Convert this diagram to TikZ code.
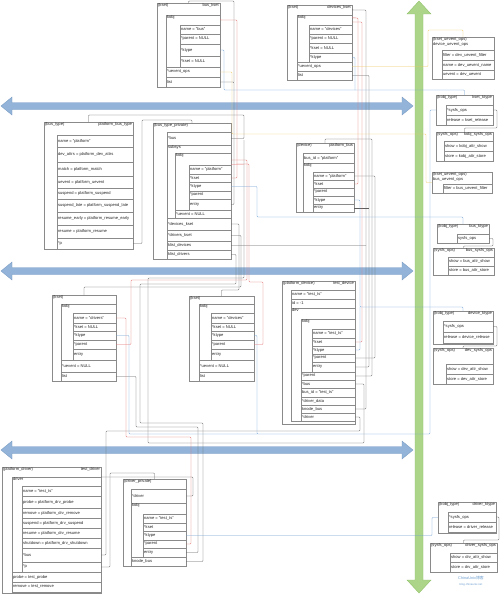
\documentclass[tikz,border=0pt]{standalone}
\usepackage{fontspec}
\setmainfont{Liberation Sans}
\newfontfamily\cjkfont{Noto Sans CJK SC}
\usetikzlibrary{fit}
\definecolor{boxc}{HTML}{8A8A8A}
\definecolor{txtc}{HTML}{262626}
\definecolor{lgray}{HTML}{5E5E5E}
\definecolor{lred}{HTML}{E36B6B}
\definecolor{lblue}{HTML}{6D9ED1}
\definecolor{lyel}{HTML}{EDC860}
\definecolor{barf}{HTML}{93B4D8}
\definecolor{bard}{HTML}{7A9CC4}
\definecolor{garf}{HTML}{ADD58A}
\definecolor{gard}{HTML}{8DBF64}
\definecolor{wmc}{HTML}{6F9FD0}
\newcommand\rowb[6]{\node[bx,fit={(#2,#3)(#4,#5)}] (#1) {};\node[tx,anchor=west] (#1-t) at ([xshift=0.8pt]#1.west) {#6};}
\newcommand\contb[6]{\node[bx,fit={(#2,#3)(#4,#5)}] (#1) {};\node[tx,anchor=north west] (#1-t) at ([xshift=0.8pt,yshift=-0.6pt]#1.north west) {#6};}
\newcommand\headb[7]{\node[bx,fit={(#2,#3)(#4,#5)}] (#1) {};\node[tx,anchor=north west] (#1-t) at ([xshift=0.8pt,yshift=-0.6pt]#1.north west) {#6};\node[tx,anchor=north east] (#1-r) at ([xshift=-0.8pt,yshift=-0.6pt]#1.north east) {#7};}
\newcommand\harr[1]{\filldraw[barrow] (1,#1) -- (12,#1-9) -- (12,#1-3.5) -- (402,#1-3.5) -- (402,#1-9) -- (413,#1) -- (402,#1+9) -- (402,#1+3.5) -- (12,#1+3.5) -- (12,#1+9) -- cycle;}
\begin{document}
\begin{tikzpicture}[x=0.5mm,y=-0.5mm,
  bx/.style={draw=boxc,line width=0.35pt,fill=white,inner sep=0pt,outer sep=0pt,rectangle},
  tx/.style={font=\fontsize{5.8}{6.5}\selectfont,text=txtc,inner sep=0.6pt,align=left},
  con/.style={line width=0.5pt,rounded corners=1.2pt},
  gl/.style={con,draw=lgray},
  rl/.style={con,draw=lred},
  bl/.style={con,draw=lblue},
  yl/.style={con,draw=lyel},
  barrow/.style={fill=barf,draw=bard,line width=0.5pt},
  garrow/.style={fill=garf,draw=gard,line width=0.5pt}]
\fill[white] (0,0) rectangle (500,594);
\useasboundingbox (0,0) rectangle (500,594);
% big arrows
\harr{106}
\harr{271}
\harr{450}
\filldraw[garrow] (419,1) -- (431,14) -- (423,14) -- (423,580) -- (431,580) -- (419,593) -- (407,580) -- (415,580) -- (415,14) -- (407,14) -- cycle;

% ---- bus_kset
\headb{bk}{157}{3}{220}{87}{(kset)}{bus\_kset}
\contb{bk-kobj}{166}{15}{220}{67}{kobj}
\rowb{bk-name}{180}{25}{220}{34}{name = "bus"}
\rowb{bk-parent}{180}{34}{220}{44}{*parent = NULL}
\rowb{bk-ktype}{180}{44}{220}{56}{*ktype}
\rowb{bk-kset}{180}{56}{220}{67}{*kset = NULL}
\rowb{bk-uev}{166}{67}{220}{77}{*uevent\_ops}
\rowb{bk-list}{166}{77}{220}{87}{list}
% ---- devices_kset
\headb{dks}{287}{5}{352}{80}{(kset)}{devices\_kset}
\contb{dks-kobj}{297}{15}{352}{62}{kobj}
\rowb{dks-name}{309}{25}{352}{34}{name = "devices"}
\rowb{dks-parent}{309}{34}{352}{43}{*parent = NULL}
\rowb{dks-kset}{309}{43}{352}{53}{*kset = NULL}
\rowb{dks-ktype}{309}{53}{352}{62}{*ktype}
\rowb{dks-uev}{297}{62}{352}{71}{*uevent\_ops}
\rowb{dks-list}{297}{71}{352}{80}{list}
% ---- right column
\contb{duo}{432}{37}{494}{79}{(kset\_uevent\_ops)\\device\_uevent\_ops}
\rowb{duo-f}{442}{50}{494}{60}{filter = dev\_uevent\_filter}
\rowb{duo-n}{442}{60}{494}{70}{name = dev\_uevent\_name}
\rowb{duo-u}{442}{70}{494}{79}{uevent = dev\_uevent}
\headb{kkt}{436}{95}{493}{125}{(kobj\_type)}{kset\_ktype}
\rowb{kkt-sys}{446}{105}{493}{115}{*sysfs\_ops}
\rowb{kkt-rel}{446}{115}{493}{125}{release = kset\_release}
\headb{kso}{436}{132}{493}{161}{(sysfs\_ops)}{kobj\_sysfs\_ops}
\rowb{kso-show}{444}{141}{493}{151}{show = kobj\_attr\_show}
\rowb{kso-store}{444}{151}{493}{161}{store = kobj\_attr\_store}
\contb{buo}{432}{172}{492}{193}{(kset\_uevent\_ops)\\bus\_uevent\_ops}
\rowb{buo-f}{443}{184}{492}{193}{filter = bus\_uevent\_filter}
\headb{bkt}{437}{224}{489}{243}{(kobj\_type)}{bus\_ktype}
\rowb{bkt-sys}{457}{234}{489}{243}{sysfs\_ops}
\headb{bso}{433}{248}{494}{275}{(sysfs\_ops)}{bus\_sysfs\_ops}
\rowb{bso-show}{448}{257}{494}{266}{show = bus\_attr\_show}
\rowb{bso-store}{448}{266}{494}{275}{store = bus\_attr\_store}
\headb{dkt}{433}{311}{493}{344}{(kobj\_type)}{device\_ktype}
\rowb{dkt-sys}{443}{321}{493}{332}{*sysfs\_ops}
\rowb{dkt-rel}{443}{332}{493}{343}{release = device\_release}
\headb{dso}{433}{348}{493}{384}{(sysfs\_ops)}{dev\_sysfs\_ops}
\rowb{dso-show}{446}{364}{493}{374}{show = dev\_attr\_show}
\rowb{dso-store}{446}{374}{493}{384}{store = dev\_attr\_store}
\headb{drkt}{438}{502}{496}{533}{(kobj\_type)}{driver\_ktype}
\rowb{drkt-sys}{448}{512}{496}{522}{*sysfs\_ops}
\rowb{drkt-rel}{448}{522}{496}{532}{release = driver\_release}
\headb{drso}{430}{543}{497}{572}{(sysfs\_ops)}{driver\_sysfs\_ops}
\rowb{drso-show}{450}{553}{497}{562}{show = drv\_attr\_show}
\rowb{drso-store}{450}{562}{497}{572}{store = drv\_attr\_store}
% ---- bus_type
\headb{bt}{44}{122}{133}{249}{(bus\_type)}{platform\_bus\_type}
\rowb{bt-name}{57}{135}{133}{147}{name = "platform"}
\rowb{bt-da}{57}{147}{133}{162}{dev\_attrs = platform\_dev\_attrs}
\rowb{bt-match}{57}{162}{133}{176}{match = platform\_match}
\rowb{bt-uev}{57}{176}{133}{188}{uevent = platform\_uevent}
\rowb{bt-susp}{57}{188}{133}{199}{suspend = platform\_suspend}
\rowb{bt-sl}{57}{199}{133}{212}{suspend\_late = platform\_suspend\_late}
\rowb{bt-re}{57}{212}{133}{225}{resume\_early = platform\_resume\_early}
\rowb{bt-res}{57}{225}{133}{238}{resume = platform\_resume}
\rowb{bt-p}{57}{238}{133}{249}{*p}
% ---- bus_type_private
\contb{bp}{153}{123}{231}{259}{(bus\_type\_private)}
\rowb{bp-bus}{167}{132}{231}{145}{*bus}
\contb{bp-subsys}{167}{145}{231}{218}{subsys}
\contb{bp-kobj}{175}{153}{231}{210}{kobj}
\rowb{bp-name}{189}{165}{231}{174}{name = "platform"}
\rowb{bp-kset}{189}{174}{231}{182}{*kset}
\rowb{bp-ktype}{189}{182}{231}{191}{*ktype}
\rowb{bp-parent}{189}{191}{231}{199}{*parent}
\rowb{bp-entry}{189}{199}{231}{210}{entry}
\rowb{bp-uev}{175}{210}{231}{218}{*uevent = NULL}
\rowb{bp-devk}{167}{218}{231}{230}{*devices\_kset}
\rowb{bp-drvk}{167}{230}{231}{241}{*drivers\_kset}
\rowb{bp-kld}{167}{241}{231}{250}{klist\_devices}
\rowb{bp-klr}{167}{250}{231}{259}{klist\_drivers}
% ---- platform_bus
\headb{pb}{296}{143}{354}{212}{(device)}{platform\_bus}
\rowb{pb-busid}{303}{153}{354}{163}{bus\_id = "platform"}
\contb{pb-kobj}{303}{163}{354}{212}{kobj}
\rowb{pb-name}{313}{172}{354}{180}{name = "platform"}
\rowb{pb-kset}{313}{180}{354}{188}{*kset}
\rowb{pb-parent}{313}{188}{354}{196}{*parent}
\rowb{pb-ktype}{313}{196}{354}{204}{*ktype}
\rowb{pb-entry}{313}{204}{354}{212}{entry}
% ---- kset drivers
\contb{kd}{52}{295}{116}{381}{(kset)}
\contb{kd-kobj}{61}{304}{116}{360}{kobj}
\rowb{kd-name}{73}{313}{116}{323}{name = "drivers"}
\rowb{kd-kset}{73}{323}{116}{331}{*kset = NULL}
\rowb{kd-ktype}{73}{331}{116}{340}{*ktype}
\rowb{kd-parent}{73}{340}{116}{349}{*parent}
\rowb{kd-entry}{73}{349}{116}{360}{entry}
\rowb{kd-uev}{61}{360}{116}{372}{*uevent = NULL}
\rowb{kd-list}{61}{372}{116}{381}{list}
% ---- kset devices
\contb{kv}{189}{296}{254}{381}{(kset)}
\contb{kv-kobj}{199}{304}{254}{360}{kobj}
\rowb{kv-name}{211}{313}{254}{323}{name = "devices"}
\rowb{kv-kset}{211}{323}{254}{331}{*kset = NULL}
\rowb{kv-ktype}{211}{331}{254}{340}{*ktype}
\rowb{kv-parent}{211}{340}{254}{349}{*parent}
\rowb{kv-entry}{211}{349}{254}{360}{entry}
\rowb{kv-uev}{199}{360}{254}{372}{*uevent = NULL}
\rowb{kv-list}{199}{372}{254}{381}{list}
% ---- test_device
\headb{td}{282}{281}{355}{424}{(platform\_device)}{test\_device}
\rowb{td-name}{291}{290}{355}{299}{name = "test\_ts"}
\rowb{td-id}{291}{299}{355}{308}{id = -1}
\contb{td-dev}{291}{308}{355}{421}{dev}
\contb{td-kobj}{301}{319}{355}{372}{kobj}
\rowb{td-kname}{312}{329}{355}{338}{name = "test\_ts"}
\rowb{td-kkset}{312}{338}{355}{346}{*kset}
\rowb{td-kktype}{312}{346}{355}{354}{*ktype}
\rowb{td-kparent}{312}{354}{355}{362}{*parent}
\rowb{td-kentry}{312}{362}{355}{372}{entry}
\rowb{td-parent}{301}{372}{355}{380}{*parent}
\rowb{td-bus}{301}{380}{355}{388}{*bus}
\rowb{td-busid}{301}{388}{355}{397}{bus\_id = "test\_ts"}
\rowb{td-dd}{301}{397}{355}{405}{*driver\_data}
\rowb{td-knode}{301}{405}{355}{413}{knode\_bus}
\rowb{td-driver}{301}{413}{355}{421}{*driver}
% ---- test_driver
\headb{tr}{2}{467}{101}{593}{(platform\_driver)}{test\_driver}
\contb{tr-drv}{12}{477}{101}{572}{driver}
\rowb{tr-name}{22}{486}{101}{496}{name = "test\_ts"}
\rowb{tr-probe}{22}{496}{101}{508}{probe = platform\_drv\_probe}
\rowb{tr-remove}{22}{508}{101}{518}{remove = platform\_drv\_remove}
\rowb{tr-susp}{22}{518}{101}{528}{suspend = platform\_drv\_suspend}
\rowb{tr-res}{22}{528}{101}{538}{resume = platform\_drv\_resume}
\rowb{tr-shut}{22}{538}{101}{548}{shutdown = platform\_drv\_shutdown}
\rowb{tr-bus}{22}{548}{101}{562}{*bus}
\rowb{tr-p}{22}{562}{101}{572}{*p}
\rowb{tr-probe2}{12}{572}{101}{582}{probe = test\_probe}
\rowb{tr-remove2}{12}{582}{101}{592}{remove = test\_remove}
% ---- driver_private
\contb{dp}{123}{479}{186}{566}{(driver\_private)}
\rowb{dp-driver}{131}{489}{186}{503}{*driver}
\contb{dp-kobj}{131}{503}{186}{557}{kobj}
\rowb{dp-name}{143}{514}{186}{523}{name = "test\_ts"}
\rowb{dp-kset}{143}{523}{186}{531}{*kset}
\rowb{dp-ktype}{143}{531}{186}{540}{*ktype}
\rowb{dp-parent}{143}{540}{186}{548}{*parent}
\rowb{dp-entry}{143}{548}{186}{557}{entry}
\rowb{dp-knode}{131}{557}{186}{566}{knode\_bus}
% ---- watermark
\node[font=\fontsize{5.5}{6}\selectfont,text=wmc,inner sep=0pt] (wm1) at (471,578) {ChinaUnix{\cjkfont 博客}};
\node[font=\fontsize{4}{5}\selectfont,text=wmc,inner sep=0pt] (wm2) at (471,585) {blog.chinaunix.net};

% ================= connectors
% gray
\draw[gl] (bk.north) |- (234,1) -- (234,82);
\draw[gl] (bk-list.east) -- (234,82) |- (bp-entry.east);
\draw[gl] (bt-p.east) -| (142,120) -| (bp.north);
\draw[gl] (bp-bus.east) -| (244,115) -| (bt.north);
\draw[gl] (td-bus.east) -| (364,443) -| (148,278) -| (244,140);
\draw[gl] (bp-devk.east) -| (239,290) -| (kv.north);
\draw[gl] (bp-drvk.east) -| (241,287) -| (kd.north);
\draw[gl] (bp-klr.east) -| (236,284) -| (140,423) -- (203,423) |- (dp-knode.east);
\draw[gl] (kd-list.east) -| (136,427) -- (198,427) |- (dp-entry.east);
\draw[gl] (td-knode.east) -| (366,10) -- ([yshift=-7pt]dks.north east);
\draw[gl] (bp-kld.east) -- (366,245.5);
\draw[gl] (dks-list.east) -| (369,367) -- (td-kentry.east);
\draw[gl] (pb-entry.east) -- ++(15,0);
\draw[gl] (td-parent.east) -| (372,139) -| (pb.north);
\draw[gl] (td-kparent.east) -| (375,176) -- (pb-name.east);
\draw[gl] (td-driver.east) -| (360,431) -| (106,555) -- (tr-bus.east);
\draw[gl] (tr-p.east) -| (110,473) -| (dp.north);
\draw[gl] (dp-driver.east) -| (193,477) -- (tr-drv.north east);
\draw[gl] (kkt-sys.east) -| (497,128) -| (kso.north);
\draw[gl] (bkt-sys.east) -| (493,246) -| (bso.north);
\draw[gl] (dkt-sys.east) -| (497,346) -| (dso.north);
\draw[gl] (drkt-sys.east) -| (499,540) -| (drso.north);
% red
\draw[rl] (bp-kset.east) -| (237,20) -- ([yshift=-7pt]bk-kobj.north east);
\draw[rl] (pb-kset.east) -| (358,18) -- ([yshift=-4pt]dks-kobj.north east);
\draw[rl] (td-kkset.east) -| (362,22) -- ([yshift=-10pt]dks-kobj.north east);
\draw[rl] (kd-parent.east) -| (131,280) -| (247,160) -- ([yshift=-10pt]bp-kobj.north east);
\draw[rl] (kv-parent.east) -| (263,282) -| (249,164) -- ([yshift=-16pt]bp-kobj.north east);
\draw[rl] (dp-parent.east) -| (191,437) -| (126,318) -- (kd-name.east);
% blue
\draw[bl] (bk-ktype.east) -| (224,90) -| (kkt.north);
\draw[bl] (dks-ktype.east) -| (355,90);
\draw[bl] (bp-ktype.east) -| (257,217) -| (bkt.north);
\draw[bl] (pb-ktype.east) -| (360,307) -| (dkt.north);
\draw[bl] (td-kktype.east) -| (360,307);
\draw[bl] (kv-ktype.east) -| (257,434) -| (430,110) -- (kkt.west);
\draw[bl] (kd-ktype.east) -| (129,434) -- (257,434);
\draw[bl] (dp-ktype.east) -| (432,517.5) -- (drkt.west);
% yellow
\draw[yl] (bk-uev.east) -| (232,134) -| (426,182.5) -- (buo.west);
\draw[yl] (dks-uev.east) -| (428,30) -| (duo.north);
\end{tikzpicture}
\end{document}
